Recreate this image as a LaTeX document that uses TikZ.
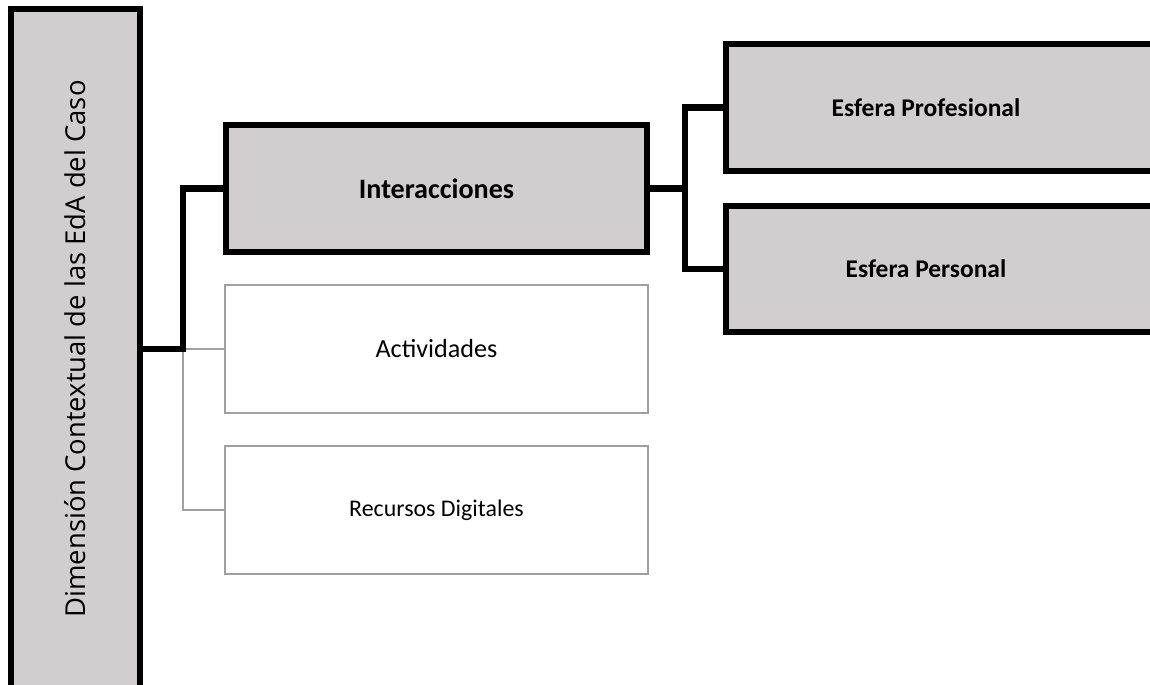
\documentclass[tikz,border=0pt]{standalone}
\usepackage{fontspec}
\setmainfont{Carlito}
\newfontfamily\rootfont{Open Sans}
\usepackage{tikz}
\usetikzlibrary{positioning}
\definecolor{boxgray}{RGB}{208,206,207}
\definecolor{linegray}{RGB}{160,160,160}

\begin{document}
\begin{tikzpicture}[
    x=0.025cm,y=-0.025cm,
    mainbox/.style={rectangle,draw=black,fill=boxgray,line width=4.3pt,inner sep=0pt},
    leafbox/.style={rectangle,draw=linegray,fill=white,line width=1.5pt,inner sep=0pt},
    thickline/.style={draw=black,line width=4.3pt},
    thinline/.style={draw=linegray,line width=1.5pt}
]
    \useasboundingbox (0,0) rectangle (1150,684);

    % Root
    \node[mainbox,minimum width=680*0.025cm,minimum height=129*0.025cm,
          rotate=90,font=\rootfont\fontsize{19.5}{24}\selectfont] (dim) at (75.5,349)
          {Dimensión Contextual de las EdA del Caso};

    % Second level
    \node[mainbox,minimum width=421*0.025cm,minimum height=127*0.025cm,
          font=\fontsize{20}{24}\selectfont\bfseries] (inter) at (436.5,188.5) {Interacciones};
    \node[leafbox,minimum width=423*0.025cm,minimum height=128*0.025cm,
          font=\fontsize{18.6}{22}\selectfont] (activ) at (436.5,349) {Actividades};
    \node[leafbox,minimum width=423*0.025cm,minimum height=128*0.025cm,
          font=\fontsize{17}{20}\selectfont] (recur) at (436.5,510) {Recursos Digitales};

    % Third level
    \node[mainbox,minimum width=444*0.025cm,minimum height=127*0.025cm,
          font=\fontsize{18.1}{22}\selectfont\bfseries] (prof) at (948,107.5)
          {Esfera Profesional\kern1.1cm};
    \node[mainbox,minimum width=444*0.025cm,minimum height=126*0.025cm,
          font=\fontsize{18.1}{22}\selectfont\bfseries] (pers) at (948,269)
          {Esfera Personal\kern1.1cm};

    % Connectors
    \coordinate (fork1) at (183,349);
    \coordinate (fork2) at (685,188.5);
    \draw[thinline] (fork1) -- (activ.west);
    \draw[thinline] (fork1) |- (recur.west);
    \draw[thickline] (dim.south |- fork1) -- (fork1) |- (inter.west);
    \draw[thickline] (inter.east) -- (fork2);
    \draw[thickline] (fork2) |- (prof.west);
    \draw[thickline] (fork2) |- (pers.west);
\end{tikzpicture}
\end{document}
